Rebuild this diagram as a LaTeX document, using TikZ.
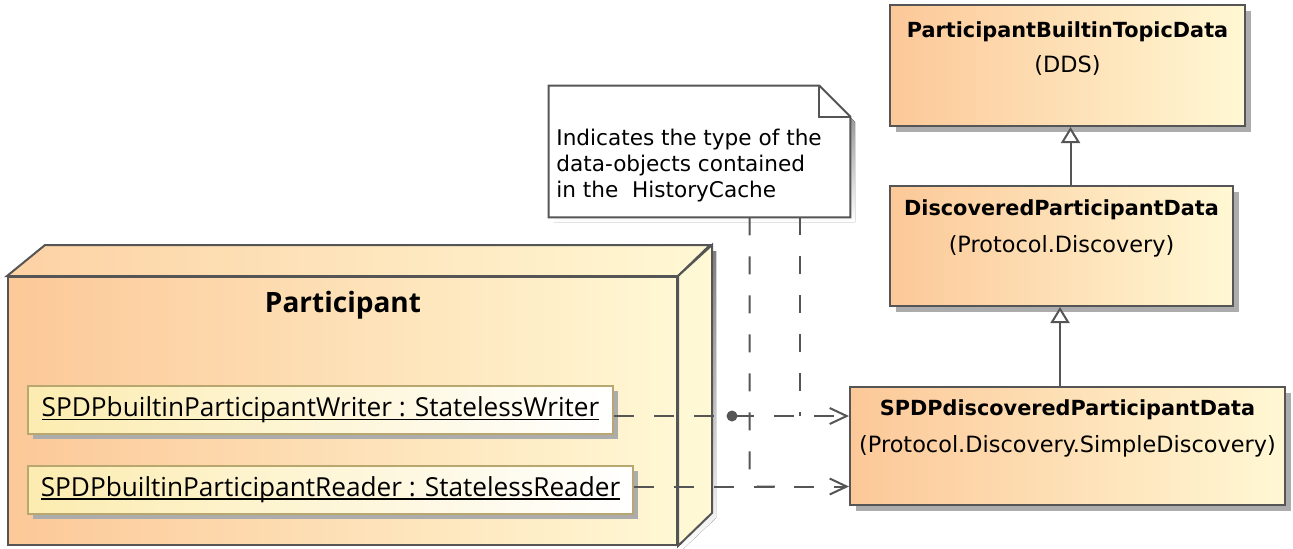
\documentclass[tikz,border=0pt]{standalone}
\usepackage{fontspec}
\setmainfont{DejaVu Sans}
\newfontfamily\nodefont{Open Sans}
\newcommand{\ulinetext}[1]{\setbox0\hbox{#1}\rlap{\rule[-1.6pt]{\wd0}{0.75pt}}\box0}
\usetikzlibrary{arrows.meta,shadows,fit}

\definecolor{peach}{RGB}{252,200,152}
\definecolor{cream}{RGB}{255,248,212}
\definecolor{lemon}{RGB}{252,236,176}
\definecolor{olive}{RGB}{184,168,112}
\definecolor{edge}{RGB}{85,85,85}
\definecolor{shade}{RGB}{172,172,172}

\begin{document}
\begin{tikzpicture}
        [x=0.5pt,y=-0.5pt,
        classbox/.style={draw=edge, line width=1pt, left color=peach, right color=cream, inner sep=0pt,
            drop shadow={shadow xshift=3pt, shadow yshift=-3pt, fill=shade, opacity=1}},
        classname/.style={font=\fontsize{10.4}{12}\selectfont\bfseries, anchor=base, inner sep=0pt},
        pkgname/.style={font=\fontsize{11.2}{12}\selectfont, anchor=base, inner sep=0pt},
        instance/.style={draw=olive, line width=1pt, left color=lemon, right color=white, inner sep=0pt,
            minimum height=24pt, font=\nodefont\fontsize{13.1}{14}\selectfont,
            drop shadow={shadow xshift=2.5pt, shadow yshift=-2.5pt, fill=shade, opacity=1}},
        notetext/.style={font=\fontsize{10.8}{13}\selectfont, align=left, inner sep=0pt},
        dep/.style={draw=edge, line width=1pt, dash pattern=on 10pt off 10pt,
            -{Straight Barb[length=8.5pt,width=8pt]}},
        notelink/.style={draw=edge, line width=1pt, dash pattern=on 9pt off 10.5pt},
        gen/.style={draw=edge, line width=1pt, -{Triangle[fill=white,length=8pt,width=9.5pt]}},
        dot/.style={circle, inner sep=0pt, minimum size=5.5pt, fill=edge}]
        \useasboundingbox (0,0) rectangle (1293,548);

        % participant (3D node)
        \fill[shade] (13,282) -- (53,251) -- (716,251) -- (716,518) -- (682,550) -- (13,550) -- cycle;
        \node[fit={(8,277) (677,545)}, inner sep=0pt, draw=edge, line width=1pt,
            left color=peach, right color=cream] (participant) {};
        \draw[edge, line width=1pt, left color=peach!80!cream, right color=cream]
            (participant.north west) -- ++(38,-31) -- ++(665,0) -- (participant.north east) -- cycle;
        \draw[edge, line width=1pt, fill=cream]
            (participant.north east) -- ++(34,-31) -- ++(0,268) -- (participant.south east) -- cycle;
        \node[font=\nodefont\fontsize{14}{16}\selectfont\bfseries, anchor=base] (participant-name)
            at (343,312) {Participant};
        \node[instance, minimum width=292.5pt] (writer) at (320.5,410)
            {\ulinetext{SPDPbuiltinParticipantWriter : StatelessWriter}};
        \node[instance, minimum width=302.5pt] (reader) at (330.5,489.5)
            {\ulinetext{SPDPbuiltinParticipantReader : StatelessReader}};

        % note
        \fill[shade] (554,91) -- (824,91) -- (855,122) -- (855,222) -- (554,222) -- cycle;
        \node[fit={(549,86) (850,217)}, inner sep=0pt] (note) {};
        \draw[edge, line width=1pt, fill=white] (note.north west) -- ([xshift=-15.5pt]note.north east)
            -- ([yshift=-15.5pt]note.north east) -- (note.south east) -- (note.south west) -- cycle;
        \draw[edge, line width=1pt] ([xshift=-15.5pt]note.north east) |- ([yshift=-15.5pt]note.north east);
        \node[notetext, anchor=north west] (note-text) at (556,129)
            {Indicates the type of the\\data-objects contained\\in the\ \ HistoryCache};

        % classes
        \node[classbox, fit={(890,5) (1245,126)}] (ptd) {};
        \node[classname] (ptd-name) at (ptd.center |- 0,37) {ParticipantBuiltinTopicData};
        \node[pkgname] (ptd-pkg) at (ptd.center |- 0,72) {(DDS)};
        \node[classbox, fit={(890,186) (1233,306)}] (dpd) {};
        \node[classname] (dpd-name) at (dpd.center |- 0,215) {DiscoveredParticipantData};
        \node[pkgname] (dpd-pkg) at (dpd.center |- 0,252) {(Protocol.Discovery)};
        \node[classbox, fit={(850,387) (1285,505)}] (spdp) {};
        \node[classname] (spdp-name) at (spdp.center |- 0,415) {SPDPdiscoveredParticipantData};
        \node[pkgname] (spdp-pkg) at (spdp.center |- 0,452) {(Protocol.Discovery.SimpleDiscovery)};

        % connectors
        \draw[gen] ([xshift=4.5pt]dpd.north) -- ([xshift=4.5pt]dpd.north |- ptd.south);
        \draw[gen] ([xshift=-3.75pt]spdp.north) -- ([xshift=-3.75pt]spdp.north |- dpd.south);
        \draw[dep] ([yshift=-3pt]writer.east) -- ([yshift=-3pt]writer.east -| spdp.west);
        \draw[dep] ([yshift=1.5pt]reader.east) -- ([yshift=1.5pt]reader.east -| spdp.west);
        \node[dot] (junction) at (732,416) {};
        \coordinate (wjoin) at (800,416);
        \coordinate (rjoin) at (775,486.5);
        \draw[notelink] ([xshift=50pt]note.south) -- ([xshift=50pt]note.south |- wjoin);
        \draw[notelink, rounded corners=4pt] ([xshift=25pt]note.south) |- (rjoin);
    \end{tikzpicture}
\end{document}
